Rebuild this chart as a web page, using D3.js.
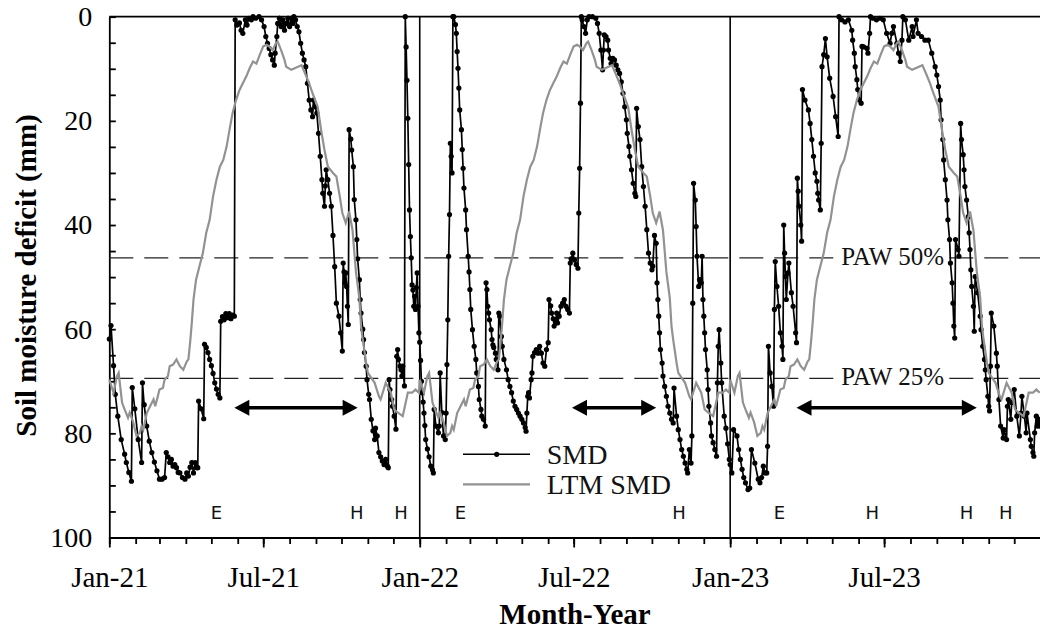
<!DOCTYPE html>
<html>
<head>
<meta charset="utf-8">
<script src="https://cdn.jsdelivr.net/npm/d3@7"></script>
<style>
  body { margin: 0; background: #fff; }
  svg { display: block; }
</style>
</head>
<body>
<div id="smd-chart"></div>
<script>
// daily soil moisture deficit, [day of year, mm]
const smd2021 = [[0,61.9],[2,59.3],[5,67],[7,72.5],[10,76.7],[14,81.2],[18,84],[20,85.6],[23,87.5],[26,89.2],
  [27,71.2],[30,75.3],[34,81.2],[38,85.6],
  [39,70.3],[41,74.5],[44,78.6],[47,81.5],[50,83.7],[53,85.5],[56,87.2],[59,88.8],[62,88.8],[65,88.5],
  [67,83.7],[69,84.5],[71,85.6],[73,85],[75,86.3],[77,86],[79,86.6],[81,87.5],[83,87.6],[86,88.5],[89,88.8],[91,87.6],[93,88.2],[95,86.5],[97,85.6],[99,87.6],[101,85.6],[103,86.6],[104,86.6],
  [105,73.8],[108,75.3],[111,77.2],
  [112,62.9],[114,63.5],[116,64.5],[118,65.8],[120,67],[122,68.5],[124,70.3],[126,71.5],[128,72.5],[130,73.2],
  [131,58.5],[133,57.6],[135,58.2],[137,57],[139,57.8],[141,57],[143,58],[145,57.3],[147,57.5],
  [148,0.6],[150,1.6],[153,1.2],[155,2.6],[157,3.2],[160,0.6],[162,1.6],[164,0.3],[167,0.6],[169,0],[172,0.3],[176,0],[179,0.6],[182,1.9],[184,3.8],[186,5.1],[188,6.1],[190,7.3],[192,8.3],[194,9.3],[195,7],[197,3.8],[198,1.3],[200,0.3],[202,1.9],[204,0.6],[206,2.6],[208,1.3],[210,0.3],[212,1.9],[214,0.3],[216,1.3],[217,0],[219,0.6],[221,1.9],[223,2.9],[225,5.1],[227,7],[229,8.3],[231,9.6],[233,12.8],[235,16],[237,17.9],[239,19.2],[240,16],[242,17.3],[244,18.5],[246,22.4],[248,26.8],[250,31.3],[251,33.9],[253,36.4],[254,32.5],[255,29.4],[257,31.3],[259,33.9],[261,36.4],[263,42],[265,48],[267,55],[270,57.5],[272,60.7],[274,64.2],
  [275,47.3],[276,49],[277,51.1],[278,49.2],[279,51.8],[280,55.6],[281,59.1],
  [282,21.7],[284,23.5],[285,25.6],[287,28.8],[288,35.1],[290,39],[291,42.8],[292,46.5],[294,50.5],[295,54.3],[296,56.9],[298,60],[299,62],[300,64.5],[302,67.1],[303,69.7],[305,72.5],[306,73.5],[308,77.3],[310,79.5],[312,81.2],[313,79],[315,80.5],[317,83.7],[319,84.5],[321,85.3],[323,86],[325,85],[327,86.3],[328,86.6],
  [329,69.7],[330,71.6],[332,73.5],[333,74.8],[335,76.7],[337,79.2],
  [338,65.2],[339,63.9],[340,65.8],[342,67.1],[343,67.8],[344,69],[345,67.1],[347,70.9],
  [348,0],[349,5.8],[350,12.2],[351,19.5],[352,28.4],[353,37.1],[354,42.2],[355,46.3],[356,51.5],[357,52.5],[358,55.6],[359,53.7],[360,56.2],[361,52],[362,49.2],[363,55.6],[364,60.7]];

const smd2022 = [[0,62.5],[1,66],[2,70],[3,72.2],[4,74],[5,76.1],[6,78.5],[7,81.2],[9,83],[11,84.5],[13,86.3],[15,87],[16,87.6],
  [17,75.4],[19,78.6],[22,79.9],[23,78.6],[24,68.4],[26,76],[28,80.5],[30,81.2],[31,76.1],[32,66.8],[33,58.2],[34,46],[35,38],[36,24.3],[37,26.8],[38,30],
  [39,0],[40,0],[42,1.5],[43,3.2],[44,6.7],[45,9.9],[46,13.7],[47,17.9],[49,21.7],[50,25.5],[51,29.1],[52,32.9],[54,37.1],[55,40.9],[57,46],[58,49],[59,52.4],[60,56.2],[62,60.1],[64,63.3],[66,65.8],[67,68.4],[69,71],[70,73.5],[72,75.4],[73,76.7],[75,77.3],[77,78.6],
  [78,51.1],[79,52.4],[80,55.6],[81,56.9],[82,58.2],[84,60.1],[85,62],[86,63],[87,63.5],[89,64.6],[90,65.8],[92,67.8],
  [93,56.9],[94,57.5],[96,61.4],[97,63.3],[99,65.8],[102,67.8],[104,69.7],[106,71],[108,72.2],[110,73.8],[112,74.8],[114,75.4],[116,76.1],[118,76.7],[120,77.3],[122,78],[124,78.9],[125,79.6],
  [126,76.1],[127,72.9],[128,72.2],[129,73.2],[131,69.7],[132,68.4],[133,65.2],[135,64.5],[137,63.9],[139,64.6],[141,63.3],[143,64.6],[145,66.5],[147,67.1],[149,63.9],[151,62.6],
  [152,54.3],[154,55.5],[155,56.9],[157,58],[158,59.4],[160,58.2],[161,56.9],[162,58.8],[164,57.5],[166,55.6],[168,55],[170,54.3],[172,55.6],[174,56.2],[176,56.9],
  [177,47.3],[178,46.5],[180,45.4],[182,46.7],[184,47.6],[186,48.3],[187,37.7],[188,29.1],[189,16.6],
  [190,0],[191,0.6],[193,1.9],[195,3.2],[197,0.6],[199,0],[203,0],[207,0.3],[209,1.3],[211,3.2],[213,6.4],[215,10.2],[216,6.4],[217,3.5],[219,3.8],[221,4.5],[222,6.4],[224,8],[225,9],[227,8],[229,8.3],[231,9.3],[233,10.2],[235,10.9],[237,12.5],[239,14.7],[241,17.3],[243,19.8],[244,22.4],[246,24.9],[247,26.8],[249,29.4],[251,32],[253,33.9],[254,34.5],
  [255,17.6],[257,21.1],[259,23.6],[261,28.8],[263,32.6],[265,36.4],[267,40.9],[269,45.4],[271,47.3],[273,48.6],[274,47.9],[276,42],[278,43.5],[279,51.1],[280,54.3],[281,57.5],[282,60.7],[283,63.9],[285,66.5],[286,69],[288,71],[290,72.9],[292,74.8],[294,76.1],[296,77.3],[298,78],[299,71.3],[302,76.7],[304,79.3],[306,81.2],[308,83.1],[310,84.4],[312,85.7],[314,86.9],[315,87.6],[317,83.1],[319,85.7],[320,80.5],
  [321,55],[322,32],[324,35.2],[325,40.3],[326,46],[328,51.8],[329,50.5],[331,51.1],[332,46],[333,54.3],[334,57.5],[335,60.7],[336,63.9],[338,67.8],[339,71.6],[340,74.8],[342,78],[343,80.5],[345,81.8],[347,83.1],[349,84.4],
  [350,70.3],[351,63.3],[352,60.1],[354,66.5],[355,70.3],[358,76.7],[360,79],[362,82],[364,85]];

const smd2023 = [[0,86],[2,87.6],
  [4,79.3],[8,80.5],[10,83.1],[12,85],[14,86.9],[16,88.5],[18,89.5],[21,90.8],[23,90.5],
  [25,83.1],[29,85.7],[33,88.8],[35,89.5],[37,88.5],[39,86.3],[41,87.6],[43,87.6],[44,82.5],
  [45,63.3],[47,68.4],[49,71],[51,74.8],
  [52,56.2],[53,47],[55,51.8],[57,55.6],[59,60.7],[61,63.3],[62,65.8],
  [63,40],[64,45.4],[65,49.9],[66,54.3],[68,49.2],[69,47.3],[72,53],[74,55.6],[77,60.7],[78,62.6],
  [79,31],[80,33.5],[81,36.4],[83,40],[84,43.1],
  [85,14],[88,16],[92,17.9],[94,20.5],[96,23.6],[98,26.8],[100,30],[102,31.6],[103,33.9],[104,35.2],[106,37.1],
  [107,24.3],[108,9.6],[110,7.3],[112,4.2],[114,7.7],[117,11.8],[121,15.3],[124,19.2],[127,23],
  [128,0],[131,0.6],[135,1],[139,0.6],[143,2.6],[144,4.5],[146,7],[147,9.6],[149,12.1],[150,14],[152,16],[154,16.6],
  [155,5.7],[157,5.8],[161,6.1],[162,7],[164,3.2],[165,0],[168,0.3],[172,0.6],[176,0.3],[180,0.6],[184,3.2],[188,5.1],[190,3.2],[192,1.9],[196,5.1],[198,7],[200,8.6],[202,4.5],[203,0],[206,0.6],[210,4.5],[214,1.9],[215,3.8],[219,0.6],[221,3.2],[225,3.8],[229,4.5],[233,4.5],[237,7],[241,9.6],[243,11.2],[245,13.4],[247,16],[248,19.8],[250,23.6],[251,27.5],[253,31.3],[255,35.2],[256,39],[258,42.8],[259,47.3],[261,51.1],[262,55],[263,59.4],[264,61.7],
  [265,42.8],[268,44.7],[269,46],
  [271,20.5],[272,23.6],[274,26.5],[275,29.4],[276,32.6],[278,35.2],[280,38.4],[281,41.5],[282,44.7],[283,48.6],[284,51.8],[286,55.6],[287,60.4],
  [288,49.9],[291,53],[294,57.5],[295,60.1],[297,63.3],[299,65.8],[300,67.8],[301,69.7],[303,72.9],[304,74.8],[305,75.7],
  [306,67.1],[307,56.9],[310,59.4],[313,64.6],[314,67.1],[316,73.5],[318,78.6],[321,80.9],[322,79.3],[325,81.2],
  [326,74.8],[327,73.5],[330,77.3],[331,74.1],[334,71.6],[337,76.7],[340,80.5],[342,76.1],[343,72.9],[346,76.7],[348,79.9],[349,76.1],[353,81.2],[354,82.5],[356,83.7],[357,84.4],[358,79.9],[360,76.7],[361,78.6],[363,77.3],[364,78.6]];

// long-term mean SMD, [day of year, mm] - the same curve every year
const ltmProfile = [[0,69.7],[5,72.2],[9,69],[11,68.4],[15,74.1],[18,75.4],[22,77],[24,76],[28,77.8],[32,80.5],[36,79.9],[38,78.6],[40,79.3],[44,76.1],[48,74.8],[52,73.5],[54,74.8],[57,72.9],[59,71.6],[63,71.3],[65,69.7],[69,69],[71,67.1],[75,66.8],[79,65.8],[83,67.1],[87,67.8],[91,66.2],[93,65.8],[95,62.6],[97,58.8],[99,54.3],[102,50.5],[106,47.9],[110,45.4],[114,41.5],[118,39],[122,34.5],[126,31.3],[130,28.8],[134,27.5],[138,24.9],[142,21.1],[145,18.5],[149,16],[153,14.1],[157,12.8],[161,11.5],[165,9.9],[169,8.6],[173,9],[177,7.3],[181,5.7],[185,5.4],[188,5.7],[192,6.4],[196,5.1],[198,4.8],[202,6.4],[206,8.3],[208,9.6],[214,10.2],[222,9.6],[226,9.3],[231,11.2],[235,12.8],[239,14.7],[245,17.3],[249,21.7],[253,25.6],[257,28.8],[263,30],[267,30.7],[271,34.5],[274,37.7],[278,39.6],[282,37.4],[286,41],[290,49],[294,54],[296,59.4],[298,62],[302,66.5],[304,68.4],[312,70.3],[317,72.9],[319,73.5],[325,70.3],[331,72.2],[335,75.4],[339,76],[345,76.7],[351,72.2],[356,72.2],[360,71.6],[364,72.2]];

const years = [2021, 2022, 2023];
const yearBreaks = ["2022-01-01", "2023-01-01"];
const pawLevels = [46.3, 69.45];
const pawLabels = ["PAW 50%", "PAW 25%"];
const pawLabelDate = "2023-07-11";
const eventCodes = ["E", "H", "H", "E", "H", "E", "H", "H", "H"];
const eventDates = ["2021-05-07", "2021-10-19", "2021-12-10", "2022-02-18", "2022-11-02",
  "2023-02-28", "2023-06-17", "2023-10-06", "2023-11-21"];
const arrowStarts = ["2021-05-28", "2022-06-29", "2023-03-20"];
const arrowEnds = ["2021-10-20", "2022-10-06", "2023-10-18"];
const arrowLevel = 75.1;
const yTicks = [0, 20, 40, 60, 80, 100];
const xTickDates = ["2021-01-01", "2021-07-01", "2022-01-01", "2022-07-01", "2023-01-01", "2023-07-01"];
const xTickLabels = ["Jan-21", "Jul-21", "Jan-22", "Jul-22", "Jan-23", "Jul-23"];

const serif = '"Liberation Serif", "Times New Roman", Times, serif';

const margin = {top: 16.7, right: 0, bottom: 95.5, left: 109.3},
    width = 931.3,
    height = 520.8;

const svg = d3.select("#smd-chart")
    .append("svg")
    .attr("width", 1040)
    .attr("height", 633);

svg.append("rect").attr("width", 1040).attr("height", 633).attr("fill", "#fff");

const g = svg.append("g")
    .attr("transform", `translate(${margin.left}, ${margin.top})`);

const parse = d3.timeParse("%Y-%m-%d");
const dayOf = (yr, doy) => d3.timeDay.offset(new Date(yr, 0, 1), doy);

const x = d3.scaleTime()
    .domain([new Date(2021, 0, 1), new Date(2024, 0, 1)])
    .range([0, width]);

const y = d3.scaleLinear()
    .domain([0, 100])
    .range([0, height]);

const smd = [smd2021, smd2022, smd2023]
    .flatMap((arr, i) => arr.map(([d, v]) => ({date: dayOf(years[i], d), v: v})));
const ltm = years
    .flatMap(yr => ltmProfile.map(([d, v]) => ({date: dayOf(yr, d), v: v})));

// axes
const xMinor = g.append("g")
    .attr("transform", `translate(0, ${height})`)
    .call(d3.axisBottom(x).ticks(d3.timeMonth.every(1)).tickSize(6.5).tickSizeOuter(0).tickFormat(""));

const xMajor = g.append("g")
    .attr("transform", `translate(0, ${height})`)
    .call(d3.axisBottom(x)
        .tickValues(xTickDates.map(parse))
        .tickSize(10)
        .tickSizeOuter(0)
        .tickPadding(19)
        .tickFormat((d, i) => xTickLabels[i]));

const yAxis = g.append("g")
    .call(d3.axisLeft(y)
        .tickValues(d3.range(0, 101, 5))
        .tickSize(-6.5)
        .tickSizeOuter(0)
        .tickPadding(17)
        .tickFormat(d => yTicks.includes(d) ? d : ""));

[xMinor, xMajor, yAxis].forEach(a => {
    a.selectAll("path, line").attr("stroke", "#000").attr("stroke-width", 1.8);
    a.selectAll("text")
        .attr("fill", "#000")
        .style("font-family", serif)
        .style("font-size", "28px");
});
xMajor.selectAll("text").style("font-size", "29px");

// frame top and year breaks
g.append("line")
    .attr("x1", 0).attr("x2", width)
    .attr("y1", 0).attr("y2", 0)
    .attr("stroke", "#000").attr("stroke-width", 1.8);

g.selectAll(".year-break")
    .data(yearBreaks.map(parse))
    .enter().append("line")
    .attr("class", "year-break")
    .attr("x1", d => x(d)).attr("x2", d => x(d))
    .attr("y1", 0).attr("y2", height)
    .attr("stroke", "#000").attr("stroke-width", 1.6);

// PAW threshold lines
g.selectAll(".paw")
    .data(pawLevels)
    .enter().append("line")
    .attr("class", "paw")
    .attr("x1", 0).attr("x2", width)
    .attr("y1", d => y(d)).attr("y2", d => y(d))
    .attr("stroke", "#222")
    .attr("stroke-width", 1.3)
    .attr("stroke-dasharray", "24,11");

const pawText = g.selectAll(".paw-label")
    .data(pawLevels)
    .enter().append("g")
    .attr("class", "paw-label");

pawText.append("text")
    .attr("x", x(parse(pawLabelDate)))
    .attr("y", d => y(d))
    .attr("dy", "0.28em")
    .attr("text-anchor", "middle")
    .style("font-family", serif)
    .style("font-size", "25px")
    .attr("fill", "#111")
    .text((d, i) => pawLabels[i]);

pawText.each(function () {
    const t = d3.select(this).select("text");
    const b = t.node().getBBox();
    d3.select(this).insert("rect", "text")
        .attr("x", b.x - 1).attr("y", b.y + 4)
        .attr("width", b.width + 2).attr("height", b.height - 8)
        .attr("fill", "#fff");
});

// event letters
g.selectAll(".event")
    .data(eventDates.map(parse))
    .enter().append("text")
    .attr("class", "event")
    .attr("x", d => x(d))
    .attr("y", y(96.4))
    .attr("text-anchor", "middle")
    .style("font-family", '"DejaVu Sans", Verdana, sans-serif')
    .style("font-size", "18px")
    .attr("fill", "#111")
    .text((d, i) => eventCodes[i]);

// double-headed arrows
const arrows = arrowStarts.map((s, i) => ({a: x(parse(s)), b: x(parse(arrowEnds[i]))}));
const ay = y(arrowLevel);
g.selectAll(".arrow-line")
    .data(arrows)
    .enter().append("line")
    .attr("x1", d => d.a + 10).attr("x2", d => d.b - 10)
    .attr("y1", ay).attr("y2", ay)
    .attr("stroke", "#000").attr("stroke-width", 3.5);
g.selectAll(".arrow-head")
    .data(arrows.flatMap(d => [[d.a, 1], [d.b, -1]]))
    .enter().append("path")
    .attr("d", d => `M${d[0]},${ay} L${d[0] + d[1] * 15},${ay - 8} L${d[0] + d[1] * 15},${ay + 8} Z`)
    .attr("fill", "#000");

// SMD series
const line = d3.line()
    .x(d => x(d.date))
    .y(d => y(d.v));

g.append("path")
    .datum(smd)
    .attr("fill", "none")
    .attr("stroke", "#000")
    .attr("stroke-width", 1.7)
    .attr("d", line);

g.append("g")
    .selectAll("circle")
    .data(smd)
    .enter().append("circle")
    .attr("cx", d => x(d.date))
    .attr("cy", d => y(d.v))
    .attr("r", 2.6)
    .attr("fill", "#000");

// long-term mean
g.append("path")
    .datum(ltm)
    .attr("fill", "none")
    .attr("stroke", "#929292")
    .attr("stroke-width", 2.2)
    .attr("d", line);

// legend
const legend = svg.append("g");
legend.append("line")
    .attr("x1", 463).attr("x2", 530).attr("y1", 454.3).attr("y2", 454.3)
    .attr("stroke", "#000").attr("stroke-width", 1.6);
legend.append("circle").attr("cx", 496.7).attr("cy", 454.3).attr("r", 2.6).attr("fill", "#000");
legend.append("line")
    .attr("x1", 463).attr("x2", 530).attr("y1", 484.3).attr("y2", 484.3)
    .attr("stroke", "#929292").attr("stroke-width", 2.2);
legend.selectAll("text")
    .data(["SMD", "LTM SMD"])
    .enter().append("text")
    .attr("x", 546.7)
    .attr("y", (d, i) => 463.5 + i * 30)
    .style("font-family", serif)
    .style("font-size", "28px")
    .attr("fill", "#111")
    .text(d => d);

// axis titles
svg.append("text")
    .attr("transform", "translate(36, 275.5) rotate(-90)")
    .attr("text-anchor", "middle")
    .style("font-family", serif)
    .style("font-size", "29px")
    .style("font-weight", "bold")
    .text("Soil moisture deficit (mm)");

svg.append("text")
    .attr("x", 575)
    .attr("y", 624)
    .attr("text-anchor", "middle")
    .style("font-family", serif)
    .style("font-size", "29px")
    .style("font-weight", "bold")
    .text("Month-Year");
</script>
</body>
</html>
